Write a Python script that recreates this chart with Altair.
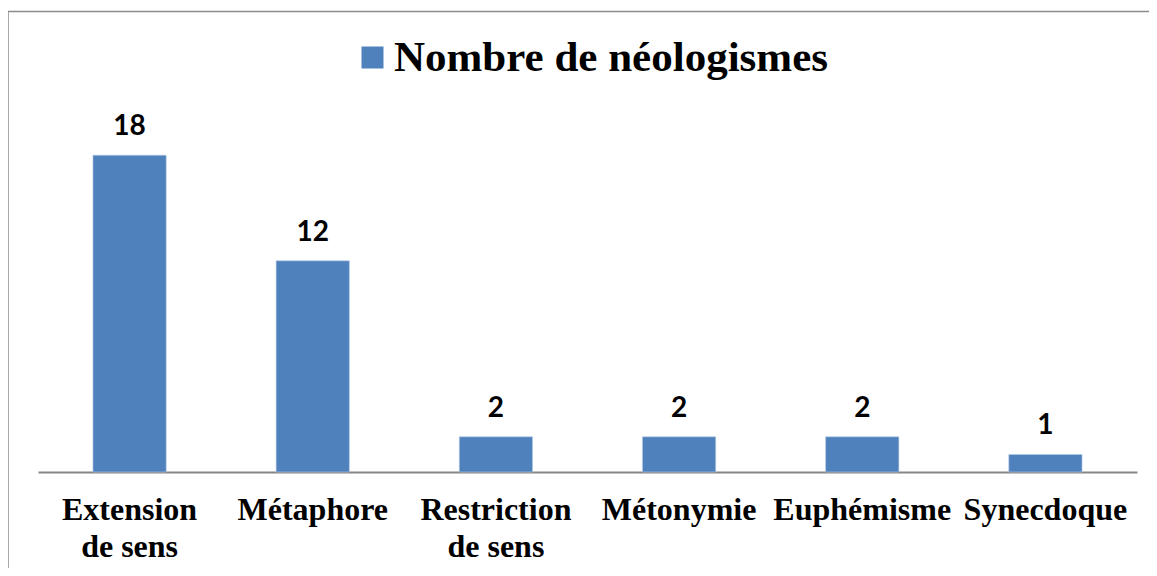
import altair as alt
import pandas as pd

categories = ["Extension de sens", "Métaphore", "Restriction de sens", "Métonymie", "Euphémisme", "Synecdoque"]
values = [18, 12, 2, 2, 2, 1]
series_name = "Nombre de néologismes"

df = pd.DataFrame({"cat": categories, "val": values, "serie": [series_name] * len(categories)})

BLUE = "#4F81BD"

x_enc = alt.X(
    "cat:N",
    sort=categories,
    scale=alt.Scale(paddingInner=0.6, paddingOuter=0.3),
    axis=alt.Axis(
        title=None,
        labelAngle=0,
        labelExpr="split(replace(datum.label, ' de sens', '|de sens'), '|')",
        labelFont="Liberation Serif",
        labelFontSize=32,
        labelFontWeight="bold",
        labelColor="black",
        labelPadding=22,
        labelLineHeight=37,
        labelLimit=0,
        ticks=False,
        domainColor="#868686",
        domainWidth=2,
        grid=False,
    ),
)
y_enc = alt.Y("val:Q", scale=alt.Scale(domain=[0, 20]), axis=None)

bars = alt.Chart(df).mark_bar(stroke="#B9CDE5", strokeWidth=0.6).encode(
    x=x_enc,
    y=y_enc,
    color=alt.Color(
        "serie:N",
        scale=alt.Scale(range=[BLUE]),
        legend=alt.Legend(
            title=None,
            orient="none",
            legendX=313,
            legendY=-84,
            symbolType="square",
            symbolSize=484,
            symbolStrokeWidth=0,
            labelFont="Liberation Serif",
            labelFontSize=43,
            labelFontWeight="bold",
            labelColor="black",
            labelOffset=0,
            padding=0,
            labelLimit=0,
        ),
    ),
)

labels = alt.Chart(df).mark_text(
    font="Lato", fontSize=28, fontWeight="bold", color="black", baseline="alphabetic", dy=-20
).encode(x=alt.X("cat:N", sort=categories), y="val:Q", text="val:Q")

frame = alt.Chart(alt.Data(values=[{"a": 1}])).mark_rect(
    filled=False, stroke="#8C8C8C", strokeWidth=1.5
).encode(x=alt.value(-30), x2=alt.value(1300), y=alt.value(-108.5), y2=alt.value(700))

chart = (
    alt.layer(frame, bars, labels)
    .properties(
        width=1099,
        height=352,
        autosize=alt.AutoSizeParams(type="none"),
        padding={"left": 30, "top": 112, "right": 12, "bottom": 96},
    )
    .configure(background="white")
    .configure_view(strokeWidth=0, stroke=None)
)

chart.save("out.html", embed_options={"renderer": "svg", "actions": False})
